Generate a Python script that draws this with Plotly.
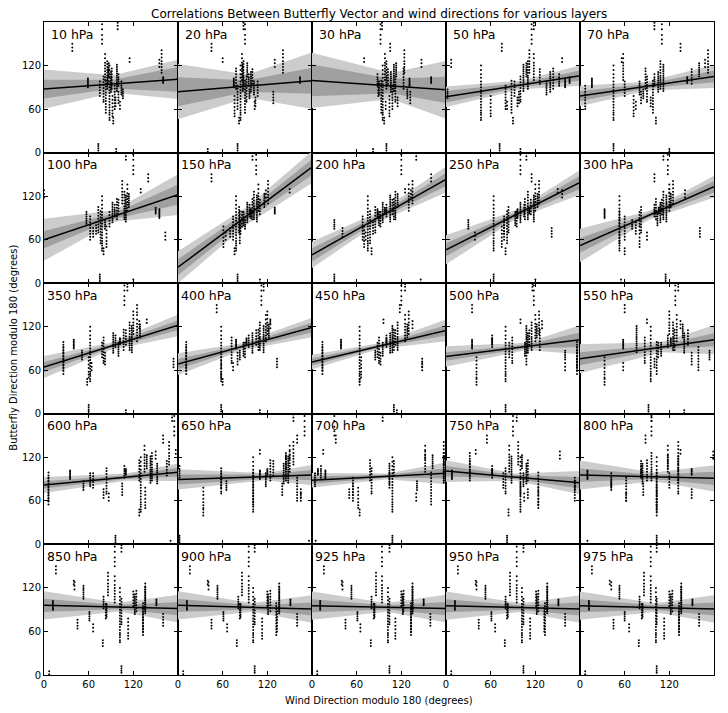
import plotly.graph_objects as go
from plotly.subplots import make_subplots

levels = [10, 20, 30, 50, 70, 100, 150, 200, 250, 300, 350, 400, 450, 500, 550,
          600, 650, 700, 750, 800, 850, 900, 925, 950, 975]

# butterfly directions, grouped by observation day (same for every layer)
cluster_y = [
    [45, 48, 52, 55, 58, 62, 66, 70, 74, 78, 82, 86, 90, 94, 98, 103, 108, 114, 120],
    [88, 91, 94, 97, 100, 103, 106, 110, 114, 118, 122, 126],
    [60, 64, 68, 72, 76, 80, 84, 88, 92],
    [92, 95, 98, 101, 104, 108],
    [70, 73, 77, 81, 85, 89, 93, 97, 101, 105],
    [100, 104, 108, 112, 116, 120, 124, 130, 136],
    [80, 83, 86, 89, 92, 95, 98],
    [50, 54, 58, 63, 68, 73, 78],
    [84, 87, 90, 93, 96, 99, 102, 105, 108, 111],
    [110, 114, 118, 122, 126, 131, 136, 141],
    [3, 6, 9, 12],
    [150, 156, 162, 170, 177],
    [90, 92, 94, 96, 98, 100, 102],
    [64, 68, 72, 76],
    [95, 99, 103, 107, 111, 115],
    [75, 78, 81, 84, 87],
    [40, 44, 48],
    [118, 123, 128],
    [85, 88, 91, 94, 97, 100, 103, 106, 109, 112, 115, 118, 121],
    [55, 59, 63, 67, 71, 75, 79, 83, 87, 91, 95, 99],
    [96, 98, 100, 102, 104],
    [140, 145, 150],
    [1, 5],
    [170, 175, 179],
    [105, 108, 111, 114, 117, 120, 123],
    [60, 65, 70],
    [88, 92, 96, 100, 104, 108, 112, 116],
    [78, 82, 86, 90, 94, 98],
    [125, 130],
    [68, 72, 76, 80, 84],
]

# wind direction of each day, one row per layer
wind_x = [
    [88, 85, 95, 100, 80, 82, 104, 92, 90, 158, 73, 78, 59, 96, 86, 106, 93, 155, 98, 83, 160, 38, 97, 99, 87, 102, 91, 75, 115, 100],
    [84, 88, 80, 95, 92, 86, 102, 76, 98, 141, 80, 90, 75, 104, 100, 96, 82, 130, 87, 90, 164, 45, 40, 88, 93, 103, 78, 107, 60, 128],
    [95, 100, 108, 88, 112, 98, 90, 104, 106, 124, 100, 92, 131, 115, 102, 128, 97, 147, 110, 93, 160, 105, 82, 94, 113, 99, 123, 89, 70, 132],
    [47, 110, 80, 152, 100, 118, 135, 60, 140, 112, 72, 115, 160, 96, 126, 2, 90, 7, 104, 88, 166, 75, 100, 118, 108, 82, 144, 92, 156, 98],
    [45, 108, 7, 100, 90, 58, 80, 72, 105, 172, 45, 110, 16, 95, 150, 85, 102, 168, 112, 98, 144, 135, 120, 100, 160, 75, 88, 60, 56, 82],
    [78, 108, 62, 95, 73, 112, 57, 84, 92, 105, 75, 120, 155, 66, 100, 82, 80, 0, 110, 76, 150, 140, 120, 110, 114, 163, 98, 88, 130, 70],
    [78, 102, 74, 96, 82, 108, 88, 61, 93, 121, 80, 105, 98, 70, 110, 90, 76, 118, 106, 83, 130, 45, 110, 100, 116, 64, 100, 86, 150, 84],
    [75, 112, 68, 100, 85, 130, 90, 70, 95, 135, 30, 120, 88, 41, 108, 30, 80, 133, 105, 78, 98, 160, 146, 140, 115, 72, 110, 92, 125, 82],
    [64, 110, 78, 105, 84, 120, 93, 75, 100, 125, 64, 100, 96, 142, 114, 30, 80, 156, 118, 82, 112, 115, 120, 108, 123, 39, 106, 95, 150, 78],
    [53, 112, 60, 100, 82, 120, 104, 80, 108, 125, 115, 118, 33, 161, 110, 70, 60, 141, 116, 53, 106, 100, 55, 112, 122, 90, 102, 80, 120, 75],
    [62, 115, 26, 96, 80, 125, 100, 60, 93, 120, 60, 108, 40, 174, 110, 51, 58, 128, 118, 26, 102, 125, 110, 112, 129, 64, 107, 78, 138, 82],
    [58, 110, 11, 95, 72, 118, 88, 58, 100, 120, 58, 112, 78, 133, 105, 83, 60, 124, 115, 11, 92, 52, 110, 115, 122, 74, 108, 90, 124, 80],
    [64, 115, 14, 100, 90, 125, 95, 66, 105, 130, 110, 120, 39, 148, 112, 85, 64, 135, 108, 14, 100, 118, 114, 125, 128, 148, 110, 88, 96, 92],
    [80, 115, 176, 62, 89, 120, 106, 41, 110, 125, 80, 118, 35, 176, 112, 160, 41, 129, 108, 176, 62, 35, 120, 116, 122, 160, 126, 85, 100, 108],
    [95, 125, 159, 118, 87, 130, 109, 33, 140, 120, 92, 128, 58, 100, 145, 174, 33, 135, 76, 103, 122, 60, 140, 132, 138, 58, 127, 105, 90, 150],
    [130, 145, 6, 108, 84, 135, 62, 136, 152, 168, 96, 175, 35, 80, 165, 53, 128, 150, 143, 6, 110, 160, 170, 172, 138, 87, 128, 66, 177, 105],
    [101, 145, 160, 2, 58, 150, 118, 34, 142, 155, 2, 170, 110, 165, 128, 65, 34, 150, 148, 101, 120, 160, 176, 155, 145, 165, 124, 58, 110, 140],
    [108, 177, 55, 12, 80, 152, 4, 62, 104, 177, 108, 30, 18, 50, 110, 141, 64, 152, 177, 160, 8, 32, 5, 95, 162, 140, 78, 104, 15, 55],
    [100, 32, 173, 62, 80, 85, 104, 124, 108, 97, 82, 90, 8, 110, 32, 173, 84, 153, 88, 124, 62, 55, 120, 95, 102, 105, 110, 77, 40, 100],
    [103, 96, 62, 82, 132, 118, 42, 103, 84, 132, 103, 96, 10, 150, 82, 42, 103, 179, 132, 103, 150, 88, 10, 96, 118, 62, 90, 120, 135, 85],
    [102, 136, 133, 80, 104, 95, 84, 113, 122, 86, 104, 95, 12, 45, 120, 61, 79, 41, 136, 133, 151, 16, 7, 104, 53, 66, 124, 83, 40, 160],
    [101, 136, 133, 81, 103, 95, 84, 113, 121, 86, 103, 95, 12, 45, 120, 61, 79, 41, 136, 132, 151, 16, 7, 103, 53, 66, 124, 83, 40, 160],
    [102, 135, 133, 80, 104, 94, 84, 112, 122, 86, 104, 94, 11, 45, 120, 61, 79, 41, 135, 133, 150, 16, 7, 104, 53, 65, 123, 83, 40, 159],
    [102, 136, 132, 80, 104, 95, 83, 113, 122, 86, 104, 95, 12, 44, 121, 61, 79, 41, 136, 133, 151, 16, 7, 104, 53, 66, 124, 82, 40, 160],
    [102, 136, 133, 80, 103, 95, 84, 113, 122, 86, 103, 95, 12, 45, 120, 60, 79, 42, 136, 133, 151, 16, 7, 103, 53, 66, 124, 83, 40, 160],
]

# fitted line at x=0 and x=180
fit_y0 = [87.5, 84, 99.5, 77, 78, 60, 22, 39, 46, 52, 64.5, 68.5, 71.5, 79, 76,
          82, 89.5, 88.5, 101, 95.5, 96, 96, 95.5, 95.5, 95.5]
fit_y180 = [101, 99, 86.5, 106, 105, 122, 160, 143, 139, 133, 122, 119, 115, 102, 102,
            99.5, 95.5, 98, 85, 91, 91.5, 91, 91.5, 91, 91]

# band half-widths at x=0, at mean x, at x=180
light_w = [
    [27, 12, 27], [38, 16, 39], [38, 18, 40], [14, 6, 14], [14, 6, 16],
    [29, 8, 28], [22, 12, 22], [18, 7, 18], [20, 6, 17], [23, 6, 15],
    [15, 5, 15], [15, 5, 13.5], [10, 4, 15], [14, 5, 20], [20, 7, 20],
    [11, 5, 12], [14, 5, 14], [10, 4, 15], [15, 5, 16], [20, 6, 18],
    [19.5, 6, 19], [19.5, 6, 19], [19.5, 6, 19], [19.5, 6, 19], [19.5, 6, 19],
]
dark_w = [
    [13, 6, 17], [20, 8, 18], [22, 10, 18], [8, 3, 7], [7, 3, 8],
    [12, 4, 14], [11, 6, 11], [9, 3, 9], [9, 3, 9], [10, 3, 8],
    [7, 2.5, 7], [7, 2.5, 7], [5, 2, 7], [6, 2.5, 10], [9, 3, 9],
    [5, 2.5, 6], [7, 3, 7], [5, 2, 7], [7, 2.5, 8], [9, 3, 9],
    [9, 3, 9], [9, 3, 9], [9, 3, 9], [9, 3, 9], [9, 3, 9],
]

FONT = "DejaVu Sans"

fig = make_subplots(rows=5, cols=5, horizontal_spacing=0, vertical_spacing=0)

for i, lev in enumerate(levels):
    row, col = i // 5 + 1, i % 5 + 1
    xs, ys = [], []
    for cx, cy in zip(wind_x[i], cluster_y):
        xs += [cx] * len(cy)
        ys += cy
    xk = sum(xs) / len(xs)

    def line(x):
        return fit_y0[i] + (fit_y180[i] - fit_y0[i]) * x / 180

    for w, color in ((light_w[i], "#cccccc"), (dark_w[i], "#a0a0a0")):
        bx = [0, xk, 180, 180, xk, 0]
        by = [line(0) + w[0], line(xk) + w[1], line(180) + w[2],
              line(180) - w[2], line(xk) - w[1], line(0) - w[0]]
        fig.add_trace(go.Scatter(x=bx, y=by, mode="lines", fill="toself",
                                 fillcolor=color, line=dict(width=0, color=color),
                                 hoverinfo="skip", showlegend=False), row=row, col=col)

    fig.add_trace(go.Scatter(x=xs, y=ys, mode="markers",
                             marker=dict(color="black", size=2),
                             showlegend=False), row=row, col=col)
    fig.add_trace(go.Scatter(x=[0, 180], y=[line(0), line(180)], mode="lines",
                             line=dict(color="black", width=1.5),
                             showlegend=False), row=row, col=col)

    ax = "" if i == 0 else str(i + 1)
    fig.add_annotation(text=f"{lev} hPa", xref=f"x{ax} domain", yref=f"y{ax} domain",
                       x=0.21, y=0.908, xanchor="center", yanchor="middle",
                       showarrow=False, font=dict(size=12.5, family=FONT, color="black"))

    fig.update_xaxes(showticklabels=(row == 5), row=row, col=col)
    fig.update_yaxes(showticklabels=(col == 1), row=row, col=col)

axis_style = dict(range=[0, 180], tickvals=[0, 60, 120, 180], ticktext=["0", "60", "120", ""],
                  ticks="inside", ticklen=4, tickcolor="black", showline=True, mirror="ticks",
                  linecolor="black", linewidth=1, showgrid=False, zeroline=False,
                  tickfont=dict(size=10, family=FONT, color="black"))
fig.update_xaxes(**axis_style)
fig.update_yaxes(**axis_style)

fig.add_annotation(text="Correlations Between Butterfly Vector and wind directions for various layers",
                   xref="paper", yref="paper", x=0.5, y=1.0125, xanchor="center", yanchor="middle",
                   showarrow=False, font=dict(size=12, family=FONT, color="black"))
fig.add_annotation(text="Wind Direction modulo 180 (degrees)", xref="paper", yref="paper",
                   x=0.5, y=-0.039, xanchor="center", yanchor="middle",
                   showarrow=False, font=dict(size=10, family=FONT, color="black"))
fig.add_annotation(text="Butterfly Direction modulo 180 (degrees)", xref="paper", yref="paper",
                   x=-0.045, y=0.501, xanchor="center", yanchor="middle", textangle=-90,
                   showarrow=False, font=dict(size=10, family=FONT, color="black"))

# page has an 8px body margin, so the figure is sized to sit inside the window
fig.update_layout(width=720, height=705, margin=dict(l=36, r=14, t=14, b=38),
                  plot_bgcolor="white", paper_bgcolor="white", showlegend=False)

fig.write_html("out.html")
